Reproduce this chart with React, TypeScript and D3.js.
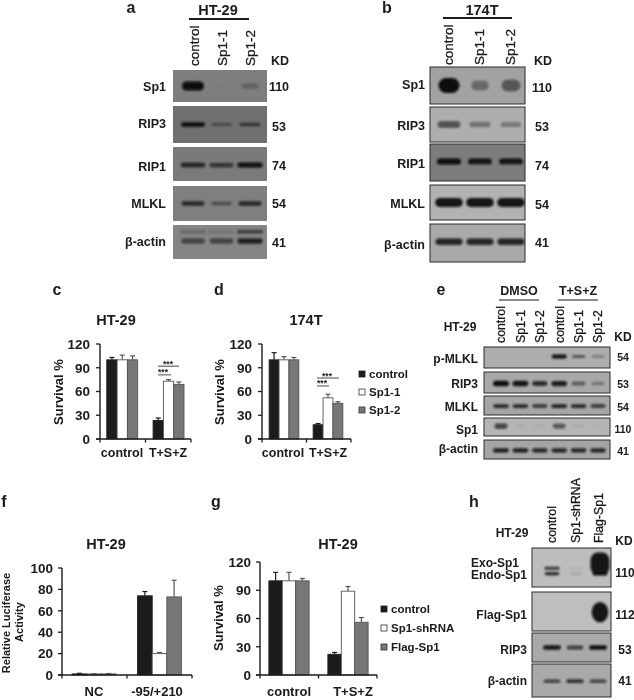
import React from "react";
import * as d3 from "d3";

// ---------- bar chart data ----------
const groupsCD = ["control", "T+S+Z"];
const groupsF = ["NC", "-95/+210"];
const seriesC = ["control", "Sp1-1", "Sp1-2"];
const seriesG = ["control", "Sp1-shRNA", "Flag-Sp1"];
const cValues = [[100, 100, 100], [23.5, 73, 69]];
const cErrors = [[3, 6, 5], [3, 2, 3]];
const dValues = [[100, 100, 100], [18, 52, 45]];
const dErrors = [[9, 4, 3], [1.5, 4.5, 2]];
const fValues = [[1, 1, 1], [74, 20, 73]];
const fErrors = [[0.6, 0.3, 0.4], [4, 1, 15.5]];
const gValues = [[100, 100, 100], [22, 89, 56]];
const gErrors = [[9, 9, 2.5], [2, 5, 5]];
const ticks120 = [0, 30, 60, 90, 120];
const ticks100 = [0, 20, 40, 60, 80, 100];
const cSig = [92, 81];
const dSig = [77, 67];

// ---------- blot data (band strength per lane) ----------
const lanes3 = ["control", "Sp1-1", "Sp1-2"];
const lanes6 = ["control", "Sp1-1", "Sp1-2", "control", "Sp1-1", "Sp1-2"];
const lanesH = ["control", "Sp1-shRNA", "Flag-Sp1"];
const aSp1 = [1, 0.02, 0.22];
const aRIP3 = [1, 0.35, 0.5];
const aRIP1 = [0.8, 0.7, 0.95];
const aMLKL = [0.8, 0.4, 0.8];
const aActin = [0.6, 0.6, 0.85];
const aActinUpper = [0.2, 0.12, 0.5];
const bSp1 = [1, 0.35, 0.55];
const bRIP3 = [0.6, 0.35, 0.3];
const bRIP1 = [1, 0.95, 0.95];
const bMLKL = [0.95, 0.95, 0.95];
const bActin = [0.85, 0.85, 0.85];
const ePMLKL = [0, 0, 0, 1, 0.5, 0.3];
const eRIP3 = [1, 0.95, 0.8, 0.9, 0.45, 0.3];
const eMLKL = [0.85, 0.85, 0.75, 0.9, 0.85, 0.75];
const eSp1 = [0.7, 0.06, 0.06, 0.6, 0.06, 0.02];
const eActin = [0.9, 0.9, 0.85, 0.85, 0.85, 0.85];
const hEndo = [0.85, 0.15, 1];
const hExo = [0.75, 0.05, 0];
const hFlagBand = [0, 0, 0.95];
const hFlag = [0, 0, 0.95];
const hRIP3 = [0.95, 0.7, 1];
const hActin = [0.7, 0.8, 0.7];

const FONT = "'Liberation Sans', Arial, sans-serif";
const DARK = "#1c1c1c";

function T(p: any) {
  const { x, y, s = 12.5, a = "middle", w = 700, rot, children, fill = "#1a1a1a", st = 0 } = p;
  return (
    <text
      x={rot ? 0 : x}
      y={rot ? 0 : y}
      transform={rot ? `translate(${x},${y}) rotate(-90)` : undefined}
      fontFamily={FONT}
      fontSize={s}
      fontWeight={w}
      textAnchor={a}
      fill={fill}
      stroke={st ? fill : "none"}
      strokeWidth={st}
    >
      {children}
    </text>
  );
}

function Blot(p: any) {
  const { x0, x1, y0, y1, bg, values, lanes, first, last, c = 0.5, bw = 22, bh = 6, border = true, extra = [] } = p;
  const xs = d3.scalePoint<number>().domain(d3.range(lanes.length) as any).range([first, last]);
  const h = y1 - y0;
  const cy = y0 + h * c;
  const id = `c${x0}-${y0}`;
  return (
    <g>
      <rect x={x0} y={y0} width={x1 - x0} height={h} fill={bg} stroke={border ? "#2a2a2a" : "none"} strokeWidth={1} />
      <clipPath id={id}>
        <rect x={x0} y={y0} width={x1 - x0} height={h} />
      </clipPath>
      <g clipPath={`url(#${id})`} filter="url(#bandBlur)">
        {values.map((v: number, i: number) => {
          const w = bw * (0.75 + 0.25 * v);
          const t = bh * (0.5 + 0.5 * v);
          return (
            <rect key={i} x={(xs(i as any) as number) - w / 2} y={cy - t / 2} width={w} height={t} rx={t / 2} fill="#0c0c0c" opacity={v} />
          );
        })}
        {extra.map((e: any, j: number) =>
          e.v.map((v: number, i: number) => (
            <rect
              key={`${j}-${i}`}
              x={(xs(i as any) as number) - (e.bw || bw) / 2}
              y={y0 + h * e.c - e.bh / 2}
              width={e.bw || bw}
              height={e.bh}
              rx={e.bh / 3}
              fill="#0c0c0c"
              opacity={v}
            />
          ))
        )}
      </g>
    </g>
  );
}

function LaneLabels(p: any) {
  const { labels, first, last, y, s = 13.5 } = p;
  const xs = d3.scalePoint<number>().domain(d3.range(labels.length) as any).range([first, last]);
  return (
    <g>
      {labels.map((l: string, i: number) => (
        <T key={i} x={(xs(i as any) as number) + s * 0.36} y={y} s={s} a="start" w={400} st={0.3} rot>
          {l}
        </T>
      ))}
    </g>
  );
}

function Bars(p: any) {
  const { x0, x1, y0, y1, max, ticks, groups, values, errors, barW, gap, tickEnd, labelY, labels } = p;
  const y = d3.scaleLinear().domain([0, max]).range([y0, y1]);
  const gx = d3.scaleBand<string>().domain(groups).range([x0, x1]);
  const fills = [DARK, "#ffffff", "#777777"];
  const strokes = [DARK, "#555555", "#555555"];
  return (
    <g>
      {values.map((vals: number[], gi: number) =>
        vals.map((v: number, i: number) => {
          const gcx = (gx(groups[gi]) as number) + gx.bandwidth() / 2 + gap[gi];
          const bx = gcx + (i - 1.5) * barW;
          const cx = bx + barW / 2;
          const top = y(v + errors[gi][i]);
          return (
            <g key={`${gi}-${i}`}>
              <line x1={cx} x2={cx} y1={y(v)} y2={top} stroke={strokes[i]} strokeWidth={1.2} />
              <line x1={cx - 2.5} x2={cx + 2.5} y1={top} y2={top} stroke={strokes[i]} strokeWidth={1.2} />
              <rect x={bx} y={y(v)} width={barW} height={y0 - y(v)} fill={fills[i]} stroke={strokes[i]} strokeWidth={0.9} />
            </g>
          );
        })
      )}
      <line x1={x0} x2={x0} y1={y0} y2={y1} stroke={DARK} strokeWidth={1.4} />
      <line x1={x0 - 4} x2={x1} y1={y0} y2={y0} stroke={DARK} strokeWidth={1.4} />
      {ticks.map((t: number) => (
        <g key={t}>
          <line x1={x0 - 4} x2={x0} y1={y(t)} y2={y(t)} stroke={DARK} strokeWidth={1.3} />
          <T x={tickEnd} y={y(t) + 4.8} s={13.5} a="end">
            {t}
          </T>
        </g>
      ))}
      {[x0, (x0 + x1) / 2, x1].map((t: number, i: number) => (
        <line key={i} x1={t} x2={t} y1={y0} y2={y0 + 3.5} stroke={DARK} strokeWidth={1.3} />
      ))}
      {labels.map((l: any, i: number) => (
        <T key={i} x={l} y={labelY} s={p.labelSize || 12.5}>
          {groups[i]}
        </T>
      ))}
    </g>
  );
}

function Legend(p: any) {
  const { x, ys, names } = p;
  const fills = [DARK, "#ffffff", "#777777"];
  return (
    <g>
      {names.map((n: string, i: number) => (
        <g key={n}>
          <rect x={x} y={ys[i] - 3} width={6} height={6} fill={fills[i]} stroke={i === 0 ? DARK : "#333"} strokeWidth={0.8} />
          <T x={x + 10} y={ys[i] + 4} s={11.5} a="start">
            {n}
          </T>
        </g>
      ))}
    </g>
  );
}

function Sig(p: any) {
  const { y0, y1, max, vals, left, rights } = p;
  const y = d3.scaleLinear().domain([0, max]).range([y0, y1]);
  return (
    <g>
      {vals.map((v: number, i: number) => (
        <g key={i}>
          <line x1={left} x2={rights[i]} y1={y(v)} y2={y(v)} stroke="#333" strokeWidth={0.9} />
          <T x={left + (i === 0 ? 10 : 5)} y={y(v) + 0.5} s={8.5}>
            ***
          </T>
        </g>
      ))}
    </g>
  );
}

function Labels(p: any) {
  const { items, x, a = "end", s = 12.5 } = p;
  return (
    <g>
      {items.map(([t, y]: [string, number], i: number) => (
        <T key={i} x={x} y={y} a={a} s={s}>
          {t}
        </T>
      ))}
    </g>
  );
}

export default function App() {
  const ax0 = 173, ax1 = 267;
  const bx0 = 430, bx1 = 525;
  const ex0 = 484, ex1 = 610;
  const hx0 = 532, hx1 = 611;
  return (
    <svg width={634} height={700} style={{ position: "absolute", left: 0, top: 0, background: "#fff" }}>
      <defs>
        <filter id="bandBlur" x="-10%" y="-50%" width="120%" height="200%">
          <feGaussianBlur stdDeviation="1.3 1" />
        </filter>
        <filter id="soft">
          <feGaussianBlur stdDeviation="0.35" />
        </filter>
      </defs>
      <g filter="url(#soft)">
        {/* a */}
        <T x={131} y={13} s={16}>a</T>
        <T x={218} y={15} s={14.5}>HT-29</T>
        <line x1={189} x2={249} y1={19} y2={19} stroke={DARK} strokeWidth={2} />
        <LaneLabels labels={lanes3} first={194} last={250} y={66} />
        <T x={280} y={65} s={12.5}>KD</T>
        <Blot x0={ax0} x1={ax1} y0={70} y1={102} bg="#7e7e7e" values={aSp1} lanes={lanes3} first={193} last={250} c={0.5} bw={22} bh={9} border={false} />
        <Blot x0={ax0} x1={ax1} y0={106} y1={143} bg="#6f6f6f" values={aRIP3} lanes={lanes3} first={193} last={250} c={0.5} bw={24} bh={4.5} border={false} />
        <Blot x0={ax0} x1={ax1} y0={147} y1={181} bg="#7a7a7a" values={aRIP1} lanes={lanes3} first={193} last={250} c={0.53} bw={26} bh={5} border={false} />
        <Blot x0={ax0} x1={ax1} y0={186} y1={221} bg="#7f7f7f" values={aMLKL} lanes={lanes3} first={193} last={250} c={0.5} bw={24} bh={5} border={false} />
        <Blot x0={ax0} x1={ax1} y0={225} y1={259} bg="#858585" values={aActin} lanes={lanes3} first={193} last={250} c={0.47} bw={26} bh={6} border={false} extra={[{ v: aActinUpper, c: 0.2, bh: 4 }]} />
        <Labels x={166} items={[["Sp1", 91], ["RIP3", 128], ["RIP1", 171], ["MLKL", 208], ["β-actin", 246]]} />
        <Labels x={279} a="middle" items={[["110", 91], ["53", 131], ["74", 170], ["54", 208], ["41", 247]]} />

        {/* b */}
        <T x={387} y={13} s={16}>b</T>
        <T x={482} y={15} s={14.5}>174T</T>
        <line x1={443} x2={512} y1={18} y2={18} stroke={DARK} strokeWidth={2} />
        <LaneLabels labels={lanes3} first={448} last={510} y={65} />
        <T x={543} y={65} s={12.5}>KD</T>
        <Blot x0={bx0} x1={bx1} y0={67} y1={104} bg="#a2a2a2" values={bSp1} lanes={lanes3} first={449} last={511} c={0.5} bw={21} bh={15} />
        <Blot x0={bx0} x1={bx1} y0={107} y1={142} bg="#aeaeae" values={bRIP3} lanes={lanes3} first={449} last={511} c={0.5} bw={25} bh={8} />
        <Blot x0={bx0} x1={bx1} y0={144} y1={181} bg="#7c7c7c" values={bRIP1} lanes={lanes3} first={449} last={511} c={0.47} bw={24} bh={6} />
        <Blot x0={bx0} x1={bx1} y0={185} y1={220} bg="#b2b2b2" values={bMLKL} lanes={lanes3} first={449} last={511} c={0.5} bw={28} bh={9} />
        <Blot x0={bx0} x1={bx1} y0={224} y1={262} bg="#a9a9a9" values={bActin} lanes={lanes3} first={449} last={511} c={0.47} bw={28} bh={7} />
        <Labels x={425} items={[["Sp1", 89], ["RIP3", 130], ["RIP1", 168], ["MLKL", 208], ["β-actin", 249]]} />
        <Labels x={542} a="middle" items={[["110", 92], ["53", 131], ["74", 170], ["54", 209], ["41", 247]]} />

        {/* c */}
        <T x={57} y={295} s={16}>c</T>
        <T x={116} y={325} s={14.5}>HT-29</T>
        <T x={63} y={392} s={13} rot>Survival %</T>
        <Bars x0={100} x1={191} y0={439} y1={344} max={120} ticks={ticks120} groups={groupsCD} values={cValues} errors={cErrors} barW={10.3} gap={[-0.5, 0.3]} tickEnd={90} labelY={457} labels={[122, 168]} />
        <Sig y0={439} y1={344} max={120} vals={cSig} left={158} rights={[179, 171]} />

        {/* d */}
        <T x={219} y={295} s={16}>d</T>
        <T x={306} y={325} s={14.5}>174T</T>
        <T x={224} y={392} s={13} rot>Survival %</T>
        <Bars x0={262} x1={351} y0={439} y1={344} max={120} ticks={ticks120} groups={groupsCD} values={dValues} errors={dErrors} barW={9.9} gap={[-0.25, -0.75]} tickEnd={252} labelY={457} labels={[283, 328]} />
        <Sig y0={439} y1={344} max={120} vals={dSig} left={317} rights={[339, 329]} />
        <Legend x={359} ys={[374, 392, 410]} names={seriesC} />

        {/* e */}
        <T x={441} y={295} s={16}>e</T>
        <T x={519} y={295} s={12.5}>DMSO</T>
        <T x={578} y={295} s={12.5}>T+S+Z</T>
        <line x1={499} x2={539} y1={300} y2={300} stroke={DARK} strokeWidth={1.2} />
        <line x1={558} x2={598} y1={300} y2={300} stroke={DARK} strokeWidth={1.2} />
        <T x={460} y={331} s={12}>HT-29</T>
        <LaneLabels labels={lanes6} first={501} last={598} y={343} s={12.3} />
        <T x={623} y={341} s={12}>KD</T>
        <Blot x0={ex0} x1={ex1} y0={347} y1={368} bg="#adadad" values={ePMLKL} lanes={lanes6} first={501} last={598} c={0.45} bw={15} bh={4} />
        <Blot x0={ex0} x1={ex1} y0={372} y1={393} bg="#a8a8a8" values={eRIP3} lanes={lanes6} first={501} last={598} c={0.55} bw={16} bh={5.5} />
        <Blot x0={ex0} x1={ex1} y0={396} y1={415} bg="#a5a5a5" values={eMLKL} lanes={lanes6} first={501} last={598} c={0.53} bw={16} bh={4} />
        <Blot x0={ex0} x1={ex1} y0={418} y1={436} bg="#b5b5b5" values={eSp1} lanes={lanes6} first={501} last={598} c={0.45} bw={14} bh={6} />
        <Blot x0={ex0} x1={ex1} y0={440} y1={459} bg="#a5a5a5" values={eActin} lanes={lanes6} first={501} last={598} c={0.55} bw={16} bh={4.5} />
        <Labels x={478} s={12} items={[["p-MLKL", 363], ["RIP3", 388], ["MLKL", 411], ["Sp1", 434], ["β-actin", 453]]} />
        <Labels x={623} a="middle" s={10.5} items={[["54", 361], ["53", 388], ["54", 411], ["110", 433], ["41", 455]]} />

        {/* f */}
        <T x={4} y={507} s={16}>f</T>
        <T x={106} y={549} s={14.5}>HT-29</T>
        <T x={10} y={623} s={11} rot>Relative Luciferase</T>
        <T x={23} y={622} s={11} rot>Activity</T>
        <Bars x0={62} x1={192} y0={675} y1={568} max={100} ticks={ticks100} groups={groupsF} values={fValues} errors={fErrors} barW={14.6} gap={[-0.5, 0]} tickEnd={53} labelY={696} labels={[94, 157]} labelSize={13} />

        {/* g */}
        <T x={216} y={507} s={16}>g</T>
        <T x={338} y={549} s={14.5}>HT-29</T>
        <T x={223} y={618} s={13} rot>Survival %</T>
        <Bars x0={260} x1={377} y0={675} y1={562} max={120} ticks={ticks120} groups={groupsCD} values={gValues} errors={gErrors} barW={13.4} gap={[-0.25, 0.25]} tickEnd={251} labelY={696} labels={[289, 353]} labelSize={13} />
        <Legend x={381} ys={[609, 628, 647]} names={seriesG} />

        {/* h */}
        <T x={474} y={507} s={16}>h</T>
        <T x={512} y={537} s={12}>HT-29</T>
        <LaneLabels labels={lanesH} first={552} last={599} y={543} s={12.3} />
        <T x={624} y={545} s={12}>KD</T>
        <Blot x0={hx0} x1={hx1} y0={548} y1={587} bg="#bdbdbd" values={hEndo} lanes={lanesH} first={552} last={600} c={0.66} bw={15} bh={3.5} extra={[{ v: hExo, c: 0.52, bh: 3 }, { v: hFlagBand, c: 0.4, bh: 22, bw: 19 }]} />
        <Blot x0={hx0} x1={hx1} y0={592} y1={631} bg="#bebebe" values={hFlag} lanes={lanesH} first={552} last={600} c={0.52} bw={17} bh={21} />
        <Blot x0={hx0} x1={hx1} y0={633} y1={662} bg="#a9a9a9" values={hRIP3} lanes={lanesH} first={552} last={598} c={0.5} bw={18} bh={4.5} />
        <Blot x0={hx0} x1={hx1} y0={664} y1={697} bg="#a9a9a9" values={hActin} lanes={lanesH} first={552} last={598} c={0.52} bw={18} bh={4} />
        <Labels x={471} a="start" s={12} items={[["Exo-Sp1", 566.5], ["Endo-Sp1", 578.5]]} />
        <Labels x={527} s={12} items={[["Flag-Sp1", 619], ["RIP3", 654], ["β-actin", 685]]} />
        <Labels x={625} a="middle" s={12} items={[["110", 577], ["112", 619], ["53", 654], ["41", 685]]} />
      </g>
    </svg>
  );
}
